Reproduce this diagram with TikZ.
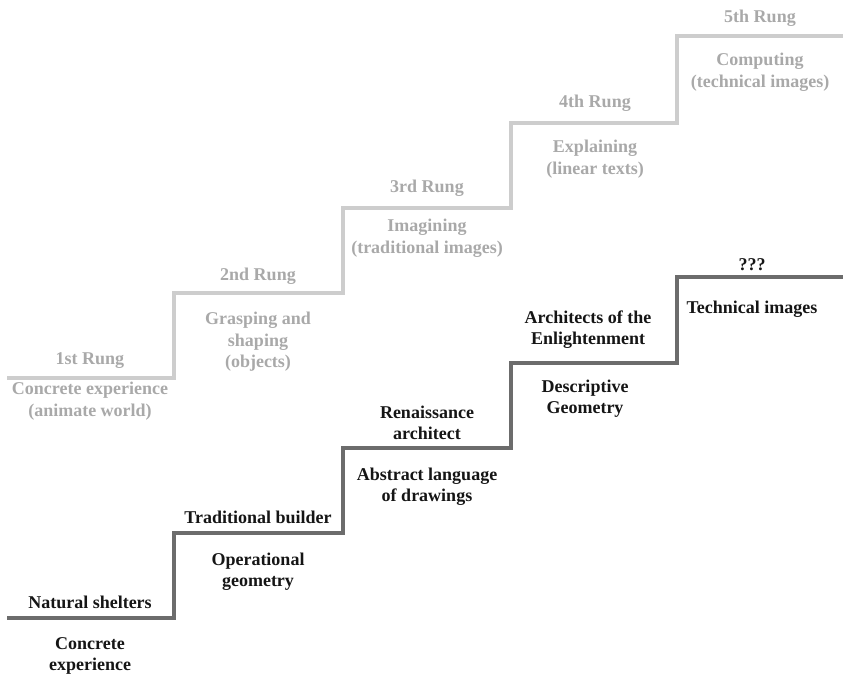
\documentclass[tikz,border=0pt]{standalone}
\usepackage{fontspec}
\setmainfont{Liberation Serif}
\usetikzlibrary{positioning}
\definecolor{RungLine}{HTML}{CDCDCD}
\definecolor{RungText}{HTML}{A9A9A9}
\definecolor{BuildLine}{HTML}{6C6C6C}
\definecolor{BuildText}{HTML}{151515}
\tikzset{
  rung/.style={text=RungText,font=\bfseries\fontsize{18}{21.5}\selectfont,align=center,inner sep=0pt},
  build/.style={text=BuildText,font=\bfseries\fontsize{18}{21}\selectfont,align=center,inner sep=0pt}
}

\begin{document}
\begin{tikzpicture}[x=1pt,y=-1pt]
        \useasboundingbox (0,0) rectangle (843,677);

        % upper stairs: the rungs
        \draw[RungLine,line width=4pt,line join=miter]
          (7,378) -- (174,378) -- (174,293) -- (343,293) -- (343,208)
          -- (511,208) -- (511,123) -- (677,123) -- (677,36) -- (843,36);

        % lower stairs: the builders
        \draw[BuildLine,line width=4pt,line join=miter]
          (7,618) -- (174,618) -- (174,533) -- (343,533) -- (343,448)
          -- (511,448) -- (511,363) -- (677,363) -- (677,277) -- (843,277);

        \node[rung] (rung1) at (90,361) {1st Rung};
        \node[rung] (mode1) at (90,401) {Concrete experience\\(animate world)};
        \node[rung] (rung2) at (258,276) {2nd Rung};
        \node[rung] (mode2) at (258,342) {Grasping and\\shaping\\(objects)};
        \node[rung] (rung3) at (427,188) {3rd Rung};
        \node[rung] (mode3) at (427,238) {Imagining\\(traditional images)};
        \node[rung] (rung4) at (595,103) {4th Rung};
        \node[rung] (mode4) at (595,159) {Explaining\\(linear texts)};
        \node[rung] (rung5) at (760,18) {5th Rung};
        \node[rung] (mode5) at (760,72) {Computing\\(technical images)};

        \node[build] (who1) at (90,602) {Natural shelters};
        \node[build] (how1) at (90,656) {Concrete\\experience};
        \node[build] (who2) at (258,517) {Traditional builder};
        \node[build] (how2) at (258,572) {Operational\\geometry};
        \node[build] (who3) at (427,423) {Renaissance\\architect};
        \node[build] (how3) at (427,487) {Abstract language\\of drawings};
        \node[build] (who4) at (588,330) {Architects of the\\Enlightenment};
        \node[build] (how4) at (585,399) {Descriptive\\Geometry};
        \node[build] (who5) at (752,265) {???};
        \node[build] (how5) at (752,309) {Technical images};
      \end{tikzpicture}
\end{document}
